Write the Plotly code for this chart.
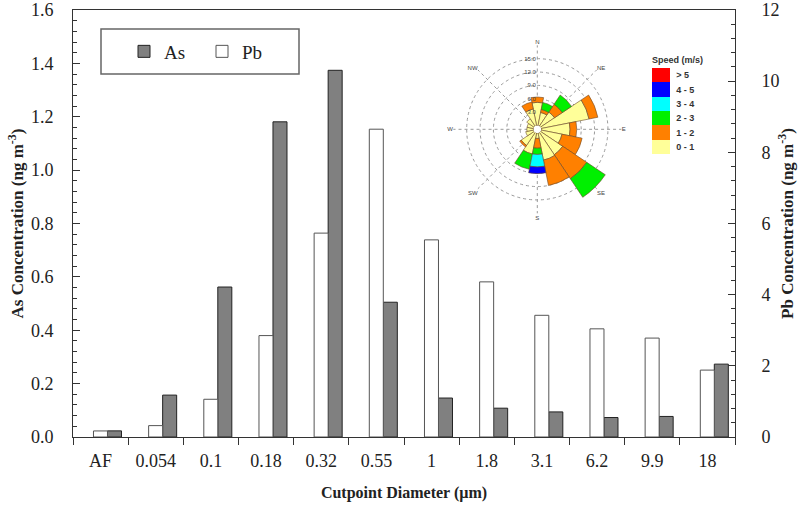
import plotly.graph_objects as go

# ---------------- data ----------------
categories = ["AF", "0.054", "0.1", "0.18", "0.32", "0.55", "1", "1.8", "3.1", "6.2", "9.9", "18"]
as_vals = [0.023, 0.157, 0.562, 1.181, 1.374, 0.505, 0.146, 0.108, 0.094, 0.073, 0.077, 0.273]
pb_vals = [0.17, 0.32, 1.06, 2.85, 5.73, 8.65, 5.54, 4.36, 3.42, 3.04, 2.78, 1.88]

directions = ["N", "NNE", "NE", "ENE", "E", "ESE", "SE", "SSE",
              "S", "SSW", "SW", "WSW", "W", "WNW", "NW", "NNW"]
dir_angles = [0, 22.5, 45, 67.5, 90, 112.5, 135, 157.5,
              180, 202.5, 225, 247.5, 270, 292.5, 315, 337.5]
speed_0_1 = [5.2, 3.0, 3.8, 11.0, 6.5, 4.8, 6.0, 6.2, 1.2, 4.8, 3.5, 1.8, 1.5, 1.5, 2.0, 3.8]
speed_1_2 = [1.2, 0.7, 2.1, 2.0, 1.5, 4.6, 6.5, 5.8, 2.2, 0.0, 0.4, 0.0, 0.0, 0.0, 0.0, 1.6]
speed_2_3 = [0.0, 1.6, 2.5, 0.0, 0.0, 0.0, 5.0, 0.0, 1.4, 3.5, 0.0, 0.0, 0.0, 0.0, 0.0, 0.0]
speed_3_4 = [0.0, 0.0, 0.0, 0.0, 0.0, 0.0, 0.0, 0.0, 2.8, 0.0, 0.0, 0.0, 0.0, 0.0, 0.0, 0.0]
speed_4_5 = [0.0, 0.0, 0.0, 0.0, 0.0, 0.0, 0.0, 0.0, 1.5, 0.0, 0.0, 0.0, 0.0, 0.0, 0.0, 0.0]
speed_gt5 = [0.0] * 16
speed_bins = ["0 - 1", "1 - 2", "2 - 3", "3 - 4", "4 - 5", "> 5"]
speed_colors = ["#FFFF99", "#FF8000", "#00F000", "#00FFFF", "#0000FF", "#FF0000"]

compass_labels = ["N", "NE", "E", "SE", "S", "SW", "W", "NW"]
compass_angles = [0, 45, 90, 135, 180, 225, 270, 315]
radial_ticks = [3, 6, 9, 12, 15]

# ---------------- layout geometry ----------------
W, H = 800, 511
ML, MT = 73, 10
MR = W - 735
MB = H - 437
PW, PH = W - ML - MR, H - MT - MB


def px_x(x_abs):
    return (x_abs - ML) / PW


def px_y(y_abs):
    return (H - MB - y_abs) / PH


serif = "Liberation Serif"
txt = "#222222"

fig = go.Figure()

bar_w = 0.254
shift = 0.125
fig.add_trace(go.Bar(
    x=categories, y=as_vals, name="As", yaxis="y",
    offset=shift, width=bar_w,
    marker=dict(color="#808080", line=dict(color="#222222", width=1)),
))
fig.add_trace(go.Bar(
    x=categories, y=pb_vals, name="Pb", yaxis="y2",
    offset=shift - bar_w, width=bar_w,
    marker=dict(color="#FFFFFF", line=dict(color="#555555", width=1)),
))

# ---------------- wind rose ----------------
speed_series = [speed_0_1, speed_1_2, speed_2_3, speed_3_4, speed_4_5, speed_gt5]
n = len(speed_bins)
cscale = []
for i, c in enumerate(speed_colors):
    cscale.append([i / n, c])
    cscale.append([(i + 1) / n, c])

for i, (vals, lab, col) in enumerate(zip(speed_series, speed_bins, speed_colors)):
    marker = dict(color=col, line=dict(color="#6b4a2a", width=0.6))
    if i == 0:
        marker = dict(
            color=[0.5] * len(vals), colorscale=cscale, cmin=0, cmax=n,
            showscale=True,
            line=dict(color="#6b4a2a", width=0.6),
            colorbar=dict(
                title=dict(text="Speed (m/s)", side="top",
                           font=dict(family="Liberation Sans", size=9, color="#333", weight="bold")),
                tickvals=[k + 0.5 for k in range(n)], ticktext=speed_bins,
                tickfont=dict(family="Liberation Sans", size=9, color="#333", weight="bold"),
                ticks="outside", ticklen=5, tickcolor="rgba(0,0,0,0)",
                thickness=17.5, len=101, lenmode="pixels",
                x=px_x(652), xanchor="left", xpad=0,
                y=px_y(103.5), yanchor="middle", ypad=0,
                outlinewidth=0,
            ),
        )
    fig.add_trace(go.Barpolar(
        r=vals, theta=dir_angles, width=22.5, name=lab, showlegend=False,
        marker=marker, subplot="polar", hoverinfo="skip",
    ))

# rose position: centre (537.3, 129.3) px, 84 px for 18 %
cx, cy, R = 537.3, 129.3, 84

fig.update_layout(
    width=W, height=H,
    margin=dict(l=ML, r=MR, t=MT, b=MB, autoexpand=False),
    paper_bgcolor="white", plot_bgcolor="white",
    barmode="overlay",
    font=dict(family=serif, color=txt),
    xaxis=dict(
        type="category", categoryorder="array", categoryarray=categories,
        automargin=False,
        showline=True, linecolor="#333", linewidth=1, mirror=True,
        ticks="outside", tickson="boundaries", ticklen=7, tickcolor="#333",
        tickfont=dict(size=18, family=serif, color=txt),
        ticklabelstandoff=7,
        showgrid=False,
        title=dict(text="Cutpoint Diameter (µm)", standoff=17,
                   font=dict(size=16, family=serif, color=txt, weight="bold")),
    ),
    yaxis=dict(
        range=[0, 1.6], dtick=0.2, tickformat=".1f",
        automargin=False, ticklabeloverflow="allow",
        showline=True, linecolor="#333", linewidth=1,
        ticks="inside", ticklen=7, tickcolor="#333",
        minor=dict(dtick=0.04, ticks="inside", ticklen=4, tickcolor="#333"),
        tickfont=dict(size=18, family=serif, color=txt),
        ticklabelstandoff=15,
        showgrid=False, zeroline=False,
        title=dict(text="As Concentration (ng m<sup>-3</sup>)", standoff=2,
                   font=dict(size=17, family=serif, color=txt, weight="bold")),
    ),
    yaxis2=dict(
        overlaying="y", side="right", anchor="x",
        automargin=False, ticklabeloverflow="allow",
        range=[0, 12], dtick=2,
        showline=True, linecolor="#333", linewidth=1,
        ticks="inside", ticklen=7, tickcolor="#333",
        minor=dict(dtick=0.4, ticks="inside", ticklen=4, tickcolor="#333"),
        tickfont=dict(size=18, family=serif, color=txt),
        ticklabelstandoff=22,
        showgrid=False, zeroline=False,
        title=dict(text="Pb Concentration (ng m<sup>-3</sup>)", standoff=2,
                   font=dict(size=17, family=serif, color=txt, weight="bold")),
    ),
    legend=dict(
        orientation="h", x=px_x(124), xanchor="left", y=px_y(51.5), yanchor="middle",
        bgcolor="rgba(0,0,0,0)", borderwidth=0,
        font=dict(size=19, family=serif, color=txt),
        entrywidth=33, entrywidthmode="pixels", traceorder="normal",
    ),
    polar=dict(
        domain=dict(x=[px_x(cx - R), px_x(cx + R)], y=[px_y(cy + R), px_y(cy - R)]),
        bgcolor="rgba(0,0,0,0)",
        hole=0.045,
        barmode="stack",
        radialaxis=dict(
            range=[0, 18], tickvals=radial_ticks, ticksuffix="%", tickformat=".1f",
            angle=90, tickangle=90, side="counterclockwise",
            showline=False, ticks="",
            gridcolor="#9a9a9a", griddash="dot", gridwidth=0.8,
            tickfont=dict(size=6, family="Liberation Sans", color="#444"),
            layer="above traces",
        ),
        angularaxis=dict(
            direction="clockwise", rotation=90,
            tickvals=compass_angles, ticktext=compass_labels,
            showline=False, ticks="",
            gridcolor="#9a9a9a", griddash="dot", gridwidth=0.8,
            tickfont=dict(size=6, family="Liberation Sans", color="#444"),
            layer="below traces",
        ),
    ),
    shapes=[dict(
        type="rect", xref="paper", yref="paper",
        x0=px_x(101), x1=px_x(299), y0=px_y(74), y1=px_y(29),
        line=dict(color="#666666", width=1.5), fillcolor="rgba(0,0,0,0)",
    )],
)

# remove the browser's default page margin so the 800x511 figure fills the window
fig.write_html(
    "out.html",
    config={"displayModeBar": False},
    post_script="document.body.style.margin='0';document.body.style.overflow='hidden';",
)
